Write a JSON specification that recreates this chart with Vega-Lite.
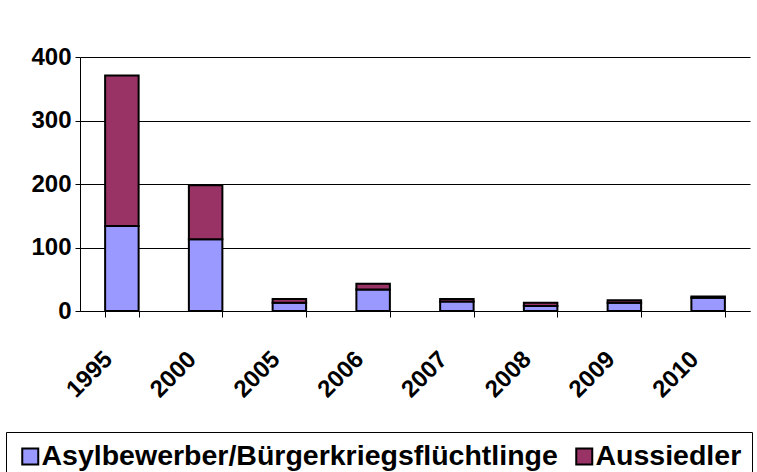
{
  "$schema": "https://vega.github.io/schema/vega-lite/v6.json",
  "width": 670,
  "height": 254,
  "autosize": {"type": "none"},
  "padding": {"left": 80, "top": 57, "right": 7, "bottom": 161},
  "background": "white",
  "config": {
    "view": {"stroke": null},
    "font": "Liberation Sans"
  },
  "data": {
    "values": [
      {"Jahr": "1995", "Gruppe": "Asylbewerber/Bürgerkriegsflüchtlinge", "Wert": 134},
      {"Jahr": "1995", "Gruppe": "Aussiedler", "Wert": 237},
      {"Jahr": "2000", "Gruppe": "Asylbewerber/Bürgerkriegsflüchtlinge", "Wert": 113},
      {"Jahr": "2000", "Gruppe": "Aussiedler", "Wert": 85},
      {"Jahr": "2005", "Gruppe": "Asylbewerber/Bürgerkriegsflüchtlinge", "Wert": 13},
      {"Jahr": "2005", "Gruppe": "Aussiedler", "Wert": 6},
      {"Jahr": "2006", "Gruppe": "Asylbewerber/Bürgerkriegsflüchtlinge", "Wert": 34},
      {"Jahr": "2006", "Gruppe": "Aussiedler", "Wert": 9},
      {"Jahr": "2007", "Gruppe": "Asylbewerber/Bürgerkriegsflüchtlinge", "Wert": 15},
      {"Jahr": "2007", "Gruppe": "Aussiedler", "Wert": 4},
      {"Jahr": "2008", "Gruppe": "Asylbewerber/Bürgerkriegsflüchtlinge", "Wert": 8},
      {"Jahr": "2008", "Gruppe": "Aussiedler", "Wert": 5},
      {"Jahr": "2009", "Gruppe": "Asylbewerber/Bürgerkriegsflüchtlinge", "Wert": 13},
      {"Jahr": "2009", "Gruppe": "Aussiedler", "Wert": 4},
      {"Jahr": "2010", "Gruppe": "Asylbewerber/Bürgerkriegsflüchtlinge", "Wert": 21},
      {"Jahr": "2010", "Gruppe": "Aussiedler", "Wert": 2}
    ]
  },
  "mark": {"type": "bar", "stroke": "black", "strokeWidth": 2},
  "encoding": {
    "x": {
      "field": "Jahr",
      "type": "ordinal",
      "scale": {"paddingInner": 0.6, "paddingOuter": 0.3},
      "axis": {
        "title": null,
        "labelAngle": -45,
        "labelFont": "Liberation Sans",
        "labelFontSize": 24,
        "labelFontWeight": "bold",
        "labelColor": "black",
        "domainColor": "black",
        "tickColor": "black",
        "tickBand": "extent",
        "tickSize": 6,
        "labelPadding": 30,
        "labelOffset": -22
      }
    },
    "y": {
      "field": "Wert",
      "type": "quantitative",
      "stack": "zero",
      "scale": {"domain": [0, 400]},
      "axis": {
        "title": null,
        "values": [0, 100, 200, 300, 400],
        "labelFont": "Liberation Sans",
        "labelFontSize": 24,
        "labelFontWeight": "bold",
        "labelColor": "black",
        "domainColor": "black",
        "tickColor": "black",
        "tickSize": 5,
        "labelPadding": 4,
        "gridColor": "black",
        "gridOpacity": 1,
        "gridWidth": 1
      }
    },
    "color": {
      "field": "Gruppe",
      "type": "nominal",
      "scale": {
        "domain": ["Asylbewerber/Bürgerkriegsflüchtlinge", "Aussiedler"],
        "range": ["#9999FF", "#993366"]
      },
      "legend": {
        "title": null,
        "orient": "none",
        "legendX": -74,
        "legendY": 375,
        "direction": "horizontal",
        "strokeColor": "black",
        "padding": 10,
        "symbolType": "square",
        "symbolSize": 256,
        "symbolStrokeColor": "black",
        "symbolStrokeWidth": 2,
        "symbolOpacity": 1,
        "labelFont": "Liberation Sans",
        "labelFontSize": 28.5,
        "labelFontWeight": "bold",
        "labelColor": "black",
        "labelOffset": -3,
        "labelLimit": 800,
        "columnPadding": 12
      }
    },
    "order": {"field": "Gruppe", "sort": "ascending"}
  }
}
